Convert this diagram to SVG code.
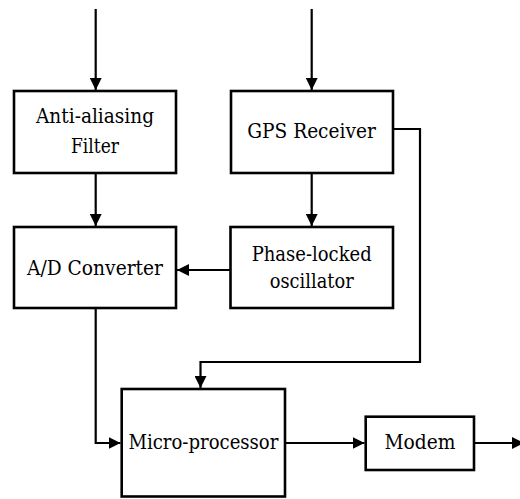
<svg xmlns="http://www.w3.org/2000/svg" width="520" height="499" viewBox="0 0 520 499">
<style>
.box{fill:#fff;stroke:#000;stroke-width:2.6}
.ln{fill:none;stroke:#000;stroke-width:2.2}
.t{font-family:'DejaVu Serif','Liberation Serif',serif;font-size:20.5px;fill:#000;text-anchor:middle}
</style>
<defs>
<marker id="ah" markerUnits="userSpaceOnUse" markerWidth="12" markerHeight="12" viewBox="0 0 12 12" refX="12" refY="6" orient="auto">
<path d="M0,0 L12,6 L0,12 Z" fill="#000"/>
</marker>
</defs>
<g id="connectors">
<path class="ln" d="M95.7,9 V90" marker-end="url(#ah)"/>
<path class="ln" d="M311.7,9 V90" marker-end="url(#ah)"/>
<path class="ln" d="M95.7,173 V226" marker-end="url(#ah)"/>
<path class="ln" d="M311.7,173 V226" marker-end="url(#ah)"/>
<path class="ln" d="M230,270 H177" marker-end="url(#ah)"/>
<path class="ln" d="M393,129 H420 V362 H200.5 V388" marker-end="url(#ah)"/>
<path class="ln" d="M95.7,308 V443 H120.5" marker-end="url(#ah)"/>
<path class="ln" d="M285,443 H364.5" marker-end="url(#ah)"/>
<path class="ln" d="M474,443 H524" marker-end="url(#ah)"/>
</g>
<g class="t">
<g id="anti-aliasing-filter">
<rect class="box" x="14" y="91" width="162" height="82"/>
<text x="95" y="123" textLength="118" lengthAdjust="spacingAndGlyphs">Anti-aliasing</text>
<text x="95" y="152.5" textLength="48" lengthAdjust="spacingAndGlyphs">Filter</text>
</g>
<g id="gps-receiver">
<rect class="box" x="231" y="91" width="162" height="82"/>
<text x="311.5" y="138.3" textLength="128.5" lengthAdjust="spacingAndGlyphs">GPS Receiver</text>
</g>
<g id="ad-converter">
<rect class="box" x="14" y="227" width="162" height="81"/>
<text x="95" y="275" textLength="136" lengthAdjust="spacingAndGlyphs">A/D Converter</text>
</g>
<g id="phase-locked-oscillator">
<rect class="box" x="230.5" y="227" width="162.5" height="81"/>
<text x="311.7" y="260.7" textLength="120" lengthAdjust="spacingAndGlyphs">Phase-locked</text>
<text x="311.7" y="288" textLength="84" lengthAdjust="spacingAndGlyphs">oscillator</text>
</g>
<g id="micro-processor">
<rect class="box" x="121.7" y="389" width="163.3" height="107.5"/>
<text x="203.4" y="449" textLength="150" lengthAdjust="spacingAndGlyphs">Micro-processor</text>
</g>
<g id="modem">
<rect class="box" x="365.7" y="416.7" width="108.3" height="53.3"/>
<text x="420" y="449" textLength="71" lengthAdjust="spacingAndGlyphs">Modem</text>
</g>
</g>
</svg>
